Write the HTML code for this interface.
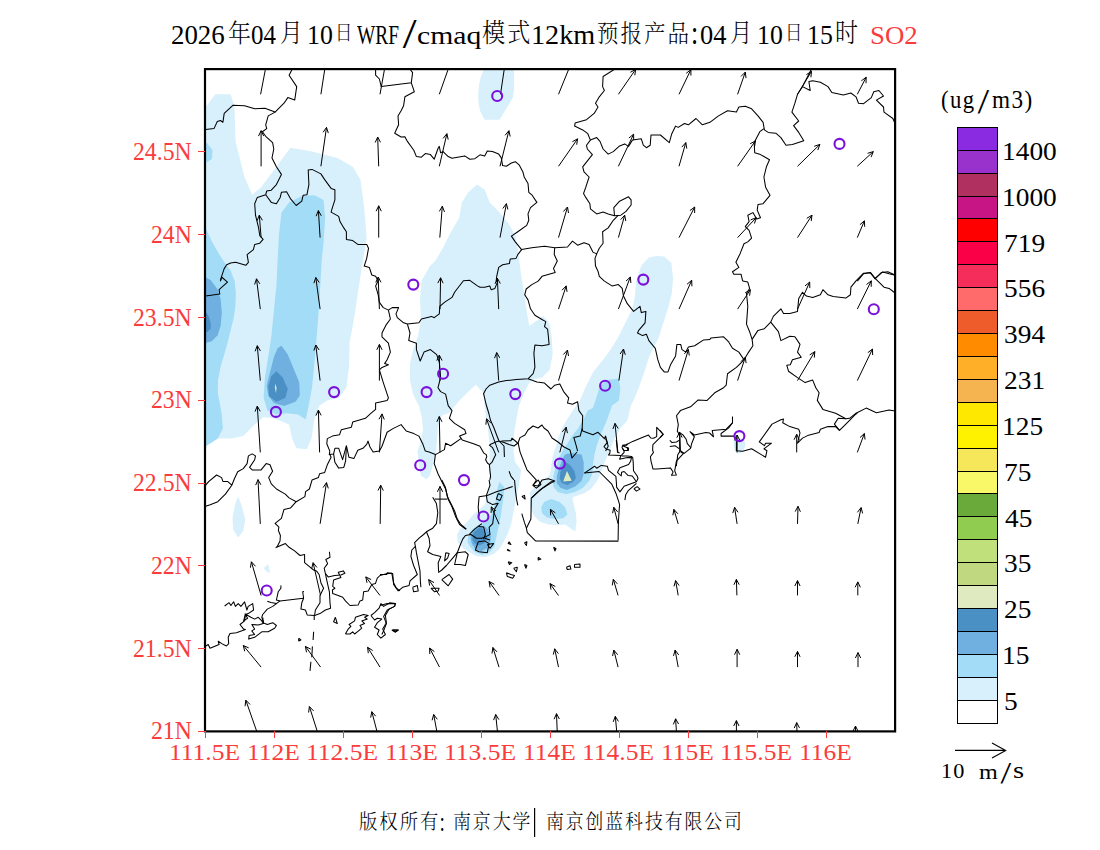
<!DOCTYPE html>
<html lang="zh"><head><meta charset="utf-8"><title>WRF/cmaq SO2</title>
<style>
html,body{margin:0;padding:0;background:#fff;}
body{width:1100px;height:850px;position:relative;overflow:hidden;font-family:"Liberation Serif","Noto Serif CJK SC",serif;color:#000;}
.t{position:absolute;white-space:nowrap;line-height:1;transform-origin:0 0;}
svg{position:absolute;left:0;top:0;}
</style></head><body>
<svg width="1100" height="850" viewBox="0 0 1100 850">
<defs><clipPath id="mc"><rect x="205.0" y="69.1" width="690.1" height="662.3"/></clipPath></defs>
<g clip-path="url(#mc)">
<g id="shade">
<path d="M190.0 100.0L205.6 107.0L215.3 94.3L230.5 94.3L234.4 105.7L235.6 141.4L244.5 177.0L252.2 194.8L261.1 187.2L276.4 166.8L290.4 147.7L312.0 151.5L337.5 157.9L352.7 166.8L360.4 179.5L364.2 207.5L366.7 238.1L362.9 260.5L357.8 293.5L354.0 319.0L349.7 341.9L348.9 367.4L346.4 387.7L338.7 397.9L327.3 400.5L319.6 405.5L314.5 418.3L311.5 438.6L306.9 449.3L296.2 448.3L292.1 438.6L289.1 424.6L273.8 418.3L263.6 417.0L254.7 424.6L243.3 436.1L231.8 438.6L217.8 438.6L205.6 446.3L190.0 447.0L185.0 300.0Z" fill="#d8f0fc"/>
<path d="M281.5 212.6L289.0 202.5L301.8 196.0L314.5 195.3L323.5 200.0L325.2 217.7L323.5 243.2L321.7 260.5L319.6 298.6L317.1 331.7L314.5 362.3L312.0 387.7L308.2 408.1L305.6 419.5L298.0 414.5L286.5 413.2L276.4 414.5L267.5 410.6L263.6 397.9L264.9 377.5L268.2 357.2L271.3 336.8L273.8 311.4L276.4 285.9L277.6 260.5L278.9 235.0Z" fill="#a3dcf6"/>
<path d="M190.0 225.0L205.6 228.0L212.7 243.0L219.0 254.0L225.3 263.5L230.6 270.6L234.7 281.2L235.9 292.9L235.3 307.0L233.5 318.8L230.6 330.6L227.6 342.4L224.7 352.9L221.0 365.0L218.0 380.0L217.8 392.8L221.6 413.2L222.9 428.5L217.8 438.6L205.6 446.3L190.0 447.0L185.0 330.0Z" fill="#a3dcf6"/>
<path d="M195.0 142.0L207.0 143.0L212.5 150.0L212.0 159.0L207.0 162.0L195.0 163.0Z" fill="#a3dcf6"/>
<path d="M190.0 276.0L205.9 277.6L210.6 280.0L217.6 289.4L220.6 298.8L221.8 312.9L220.6 325.9L217.6 335.3L211.8 341.2L205.9 343.0L190.0 343.0Z" fill="#70b0e0"/>
<path d="M195.0 310.0L205.9 311.8L208.8 316.5L210.6 322.4L210.8 328.2L208.2 331.2L205.9 332.4L195.0 333.0Z" fill="#4a90c4"/>
<path d="M281.5 345.7L287.8 354.6L294.2 369.9L299.3 382.6L299.8 395.4L295.5 401.7L284.0 406.0L273.8 403.0L268.2 395.4L266.7 385.2L270.0 372.5L273.8 357.2L277.6 348.3Z" fill="#70b0e0"/>
<path d="M276.4 371.2L282.7 377.5L287.8 389.0L285.3 397.9L276.4 401.7L269.2 396.6L268.2 386.5L271.3 376.3Z" fill="#4a90c4"/>
<path d="M275.0 383.5L276.6 387.7L276.0 393.2L274.9 388.0Z" fill="#e0eac0"/>
<path d="M477.0 184.6L484.7 189.7L489.8 202.5L498.7 211.4L508.9 224.1L515.3 235.5L517.8 249.0L519.6 263.0L521.6 278.3L524.2 293.5L526.7 311.4L529.3 326.1L543.3 315.9L549.6 324.1L551.7 336.8L552.7 354.6L549.6 369.9L542.0 377.5L531.8 380.1L528.0 385.2L524.2 392.8L519.1 405.5L516.5 418.3L514.0 433.5L513.5 451.0L515.0 462.0L521.2 470.0L519.1 484.1L516.3 498.2L513.4 512.4L511.3 523.7L507.8 533.6L503.6 542.0L499.3 549.1L493.7 554.0L485.2 556.9L476.7 556.2L469.7 552.6L462.6 547.7L457.7 542.0L457.0 535.0L459.8 529.3L466.8 522.3L473.9 513.8L481.0 508.1L485.2 503.9L486.6 495.4L488.7 486.9L490.1 478.5L489.4 470.0L489.8 451.0L489.0 438.6L487.3 423.4L484.7 408.1L483.5 392.8L475.8 384.7L468.0 392.0L460.0 400.0L453.0 408.0L449.0 413.0L443.0 415.0L440.0 418.0L438.0 428.0L437.0 440.0L436.0 452.0L434.4 456.5L433.0 464.2L430.0 475.6L426.5 479.3L421.0 476.0L418.9 466.0L417.6 450.8L420.0 444.0L423.0 430.0L422.0 418.0L419.0 406.0L413.0 394.0L410.0 380.0L410.0 364.0L413.0 350.0L418.0 336.0L421.0 320.0L420.0 300.0L421.5 281.1L430.0 266.0L435.1 261.0L442.7 248.3L450.4 233.0L459.3 217.7L461.8 202.5L468.2 192.3Z" fill="#d8f0fc"/>
<path d="M648.9 257.4L656.5 255.9L664.2 256.6L671.3 263.0L673.1 278.3L671.8 293.5L668.0 308.8L662.9 324.1L659.1 336.8L654.0 347.0L648.9 357.2L645.1 369.9L638.7 387.7L633.6 400.5L631.0 405.0L627.5 420.0L620.4 428.5L614.7 438.4L610.5 448.2L607.0 456.7L603.4 465.2L600.6 473.7L596.4 482.1L590.7 489.2L583.7 493.4L575.2 496.3L572.4 497.7L573.8 504.7L575.9 513.2L576.6 521.7L575.2 531.6L571.0 528.8L565.3 524.5L558.2 525.2L548.4 524.5L539.9 521.7L534.2 516.0L531.4 510.4L530.0 504.7L530.0 492.0L535.6 486.4L544.1 479.3L549.8 475.1L551.2 466.6L552.6 456.7L555.4 448.2L558.2 438.4L561.8 428.5L566.7 420.0L576.4 405.0L578.9 403.0L585.3 387.7L592.9 372.5L603.1 359.7L610.7 349.5L618.4 336.8L626.0 321.5L632.4 308.8L634.9 296.1L636.2 280.8L641.3 265.5Z" fill="#d8f0fc"/>
<path d="M605.6 380.1L618.4 378.8L620.4 387.7L618.9 400.5L612.0 405.5L607.0 420.0L602.7 429.9L599.2 438.4L596.4 446.8L594.3 455.3L592.9 465.2L592.1 473.7L589.3 480.7L583.0 487.8L575.2 492.0L566.0 494.2L557.5 492.0L553.3 486.4L553.3 476.5L555.4 468.0L560.4 455.3L563.9 448.2L568.1 442.6L572.4 435.5L578.0 428.5L583.0 420.0L584.0 418.3L587.8 410.6L592.9 408.1L595.5 400.5L599.3 387.7Z" fill="#a3dcf6"/>
<path d="M541.3 507.6L544.1 501.9L551.2 499.1L559.7 501.9L565.3 507.6L567.4 514.6L563.2 518.2L555.4 518.9L546.9 517.5L542.0 513.2Z" fill="#a3dcf6"/>
<path d="M566.0 453.9L572.4 453.2L581.6 454.6L583.7 462.4L583.7 473.7L581.6 480.7L575.2 486.4L566.7 489.9L560.4 487.8L556.8 482.9L556.8 476.5L559.0 468.0L561.8 461.0L563.9 456.0Z" fill="#70b0e0"/>
<path d="M563.2 466.6L566.7 462.4L571.0 465.9L574.5 471.6L575.9 477.9L573.1 482.1L567.4 485.0L561.8 482.9L559.7 478.6L560.4 472.3Z" fill="#4a90c4"/>
<path d="M567.0 471.1L571.7 480.7L563.2 481.4Z" fill="#e0eac0"/>
<path d="M499.3 482.0L504.3 486.9L503.6 496.8L502.1 506.7L500.7 516.6L498.6 526.5L496.5 536.4L494.4 546.3L489.4 552.6L482.4 554.7L475.3 552.6L470.4 547.0L467.5 542.0L468.2 536.4L472.5 529.3L478.1 525.1L485.2 522.3L489.4 518.0L493.7 509.5L495.8 499.7L497.2 489.8Z" fill="#a3dcf6"/>
<path d="M471.8 532.1L478.1 526.5L483.8 525.8L488.0 529.3L490.8 536.4L490.1 543.4L486.6 548.4L481.0 551.2L475.3 549.1L471.8 543.4L470.4 537.8Z" fill="#70b0e0"/>
<path d="M473.9 532.1L478.8 527.9L482.4 528.6L485.2 532.9L487.3 538.5L483.8 543.4L478.8 545.6L474.6 543.4L472.5 539.2L472.8 535.0Z" fill="#4a90c4"/>
<path d="M484.0 55.0L514.0 55.0L514.0 90.0L513.0 97.0L509.8 103.0L499.5 119.7L484.7 119.7L480.5 112.0L478.6 104.0L478.1 95.0L479.0 85.0L481.0 76.0L484.0 69.0Z" fill="#d8f0fc"/>
<path d="M238.2 496.6L242.0 506.8L245.3 519.5L243.3 531.0L238.2 537.4L233.1 529.7L232.6 517.0L235.1 504.3Z" fill="#d8f0fc"/>
<path d="M263.6 567.9L268.2 564.1L270.0 573.0L266.7 571.7Z" fill="#d8f0fc"/>
<path d="M733.8 441.7C734.4 439.4 737.5 438.5 739.4 438.6C741.3 438.8 744.7 440.3 745.3 442.4C745.8 444.6 744.3 449.7 742.7 451.4C741.2 453.1 737.3 454.3 735.9 452.6C734.4 451.0 733.2 444.0 733.8 441.7Z" fill="#d8f0fc"/>
</g>
<g id="bounds" fill="none" stroke="#000" stroke-width="1.05" stroke-linejoin="round">
<polyline points="205.6,129.4 214.0,128.6 217.3,121.5 220.4,120.5 222.9,122.3 224.2,113.4 233.1,105.2 244.6,105.7 254.7,108.8 264.9,108.3 275.1,112.1 284.0,103.2 287.8,97.6 294.7,100.1 296.7,86.6 289.1,75.2 292.1,69.3"/>
<polyline points="275.1,112.1 268.2,115.9 265.7,124.8 266.7,128.6 262.4,131.7 265.7,136.3 272.6,142.6 273.8,149.0 272.0,157.9 276.4,166.8 281.4,174.4 276.4,184.6 271.3,190.2 266.7,191.0 265.7,194.8 271.3,202.4 276.4,203.7 280.2,197.4 281.4,192.3 286.6,191.8 290.4,198.6 296.2,205.5 301.8,201.2 303.1,195.3 306.9,194.8 308.9,184.6 308.2,169.9 312.0,169.4 320.9,173.9 324.7,179.6 331.1,188.4 334.9,189.7 334.9,199.9 332.4,207.6 331.1,212.1 338.7,216.4 340.0,221.6 343.8,227.9 346.4,231.7 346.4,239.4 352.7,240.6 357.8,244.4 366.7,244.4 368.5,248.3 366.7,258.4 364.2,266.1 369.3,267.4 371.8,275.0 375.6,276.3 378.2,281.1"/>
<polyline points="265.7,194.8 257.3,197.4 254.7,203.7 255.5,215.2 258.6,227.9 259.8,235.6 263.1,239.4 259.8,243.2 254.7,244.4 253.4,249.6 247.1,254.6 248.4,262.3 245.8,265.3 235.6,262.3 230.6,263.0 226.7,264.8 224.2,268.6 221.6,276.3 220.4,281.1"/>
<polyline points="375.6,69.3 375.6,75.2 379.4,79.0 381.2,86.6 411.3,82.8 412.6,72.6 410.0,69.3"/>
<polyline points="411.3,82.8 414.3,91.7 404.9,96.8 403.6,105.7 401.1,110.8 398.0,115.9 398.6,124.8 394.7,133.2 401.1,137.0 404.9,136.8 407.4,141.4 413.8,150.3 416.4,156.6 421.4,157.2 425.3,153.6 430.4,154.6 434.2,159.2 438.0,148.5 439.3,146.4 440.6,152.8 443.1,151.6 448.2,156.6 452.0,158.2 464.7,155.9 469.8,159.2 474.9,158.7 480.0,154.8"/>
<polyline points="479.9,154.8 484.7,156.1 487.3,151.0 492.4,151.6 498.7,154.1 501.3,157.9 502.6,165.6 506.4,166.3 511.4,163.0 515.3,161.7 519.1,164.8 522.9,171.9 524.2,177.0 528.0,183.4 528.8,192.3 531.8,194.8 536.9,202.4 530.5,207.6 528.0,213.9 528.8,220.3 526.7,225.4 517.8,231.7 511.4,236.1 515.3,241.9 521.6,249.6 531.8,247.8 544.5,246.2 554.7,247.8 567.5,247.0 572.5,241.2 577.6,245.2 584.0,242.7 589.1,244.4 592.9,252.1 596.7,253.9 599.3,248.3 603.1,243.2 602.6,231.7 608.2,227.9 613.3,220.3 618.4,215.2"/>
<polyline points="521.6,249.6 517.8,254.6 516.0,258.4 510.2,259.0 509.4,263.6 502.6,264.8 498.7,267.4 496.7,276.3 496.2,281.1"/>
<polyline points="554.7,247.8 554.2,254.6 557.3,261.0 553.5,268.6 555.2,272.4 542.0,276.3 538.2,281.1"/>
<polyline points="596.7,253.9 595.0,258.4 595.5,266.1 598.0,271.2 599.3,276.3 604.4,281.1"/>
<polyline points="614.5,69.3 603.1,76.5 602.6,86.6 604.4,90.5 599.3,96.8 595.5,103.2 598.0,107.0 594.2,113.4 586.5,119.7 575.1,123.0 574.6,126.1 582.7,129.9 587.8,133.7 590.4,140.1 586.5,145.2 587.3,149.0 592.4,154.6 587.8,160.4 582.7,166.8 584.0,171.9 589.1,177.0 585.8,187.2 583.5,193.6 585.8,197.4 589.9,203.7 590.4,208.8 596.7,213.9 603.1,212.1 608.2,213.9 614.5,215.7 613.8,207.6 619.6,201.2 628.5,196.8 631.1,199.9 631.1,205.0 626.0,211.4 620.9,215.2 614.5,215.7"/>
<polyline points="590.4,140.1 596.7,137.6 600.0,141.4 603.1,149.0 608.2,154.1 613.3,151.6 619.6,145.9 624.7,143.9 628.5,146.4 632.4,140.1 641.3,138.8 643.3,145.2 646.4,147.7 650.2,145.2 651.0,135.0 660.4,135.0 669.3,142.6 671.8,133.7 675.6,126.1 678.2,127.4 684.5,123.5 688.4,124.8 696.0,118.5 702.4,124.8 710.0,122.3"/>
<polyline points="709.9,122.3 718.5,115.9 727.5,110.8 736.4,112.1 738.9,107.0 745.3,106.2 751.6,108.8 758.0,115.9 763.1,122.3 764.4,129.9 768.2,132.4 775.8,133.2 780.9,137.6 786.0,145.2 792.4,144.4 803.8,140.8 798.7,132.4 793.6,125.6 798.7,121.0 791.9,112.1 794.9,103.2 797.5,94.3 802.5,86.6 806.4,79.0 810.2,71.4 811.5,69.3"/>
<polyline points="802.5,86.6 810.2,90.5 808.9,81.5 812.7,80.8 820.4,82.3 828.0,86.6 831.8,92.5 843.3,95.0 850.9,93.0 856.0,96.8 858.5,103.2 863.6,103.7 871.3,97.6 873.8,91.7 878.9,90.5 883.5,96.0 876.4,100.1 883.5,107.0 884.0,112.1 892.9,118.5 895.0,123.5"/>
<polyline points="763.9,128.6 759.8,131.7 754.2,142.6 754.7,152.8 760.5,154.6 769.5,159.7 766.4,166.8 763.9,177.0 765.6,187.2 770.0,195.3 763.1,203.7 758.0,204.5 757.2,210.1 760.5,217.7 756.7,219.0 752.9,212.6 747.8,215.2 749.1,221.6 745.3,226.6 749.1,230.4 751.6,238.1 747.8,241.9 744.0,243.7 740.2,253.4 735.9,262.3 738.9,267.4 732.5,271.7 733.8,274.2 741.0,274.2 742.7,281.1"/>
<polyline points="857.3,281.1 863.6,273.7 870.0,272.4 875.1,278.8 881.5,272.4 887.8,271.7 895.0,275.0"/>
<polyline points="220.4,281.1 221.6,277.0 227.5,282.1 219.1,289.7 219.8,294.1 205.6,296.1"/>
<polyline points="378.2,280.8 375.6,285.9 378.2,294.8 379.4,302.4 383.3,307.6 388.4,310.1 392.2,307.6 398.6,307.6 396.0,313.9 397.3,317.7 403.6,322.8 407.4,324.1 418.9,322.8 421.4,319.0 431.6,316.4 434.2,317.7 439.3,313.9 439.8,306.3 444.4,302.4 452.0,297.4 454.6,292.3 463.4,280.8 469.8,280.3 477.4,285.9 480.0,287.2"/>
<polyline points="388.4,310.1 390.4,319.0 385.8,325.4 382.0,333.0 382.0,336.8 388.4,343.2 390.4,352.1 387.1,359.7 384.6,363.6 388.4,364.8 382.0,367.4 379.4,369.9 383.3,382.6 388.4,397.9 387.1,400.4 375.6,403.0 375.6,409.4 371.1,413.2 365.4,418.3 352.7,422.1 351.4,427.2 341.3,429.7 339.5,434.8 332.4,436.1 327.3,438.6 326.8,443.7 329.8,451.1"/>
<polyline points="407.4,324.1 410.0,333.0 408.7,340.6 416.4,343.2 416.4,349.6 420.2,361.0 424.0,352.1 430.4,349.6 436.7,354.6 439.3,362.3 440.6,377.6 438.0,387.7 440.6,391.6 445.6,394.1 448.2,405.6 452.0,410.6 449.4,418.3 454.6,423.4 464.7,429.7 466.0,433.6 459.6,436.1 462.2,439.9 473.6,443.7 480.0,446.3"/>
<polyline points="379.4,451.1 382.0,446.3 387.1,432.3 393.4,428.4 401.1,424.6 406.2,431.0 413.8,433.6 418.9,436.1 422.7,443.7 425.3,451.1"/>
<polyline points="496.2,281.1 497.4,282.1 494.9,288.4 491.1,289.7 489.8,285.9 484.7,287.2 479.9,287.2"/>
<polyline points="538.2,281.1 531.8,284.6 526.2,289.0 524.7,294.8 528.0,299.9 530.5,308.8 534.9,315.2 542.0,319.5 545.8,321.6 544.5,326.6 547.6,329.2 548.4,336.8 549.1,344.4 542.0,345.7 534.9,345.0 533.9,353.4 534.4,359.7 534.9,367.4 533.1,373.7 528.0,378.8 516.5,379.6 506.4,380.6 498.7,382.1 489.8,385.2 486.0,389.0 483.4,394.1"/>
<polyline points="528.0,378.8 536.9,382.1 544.5,383.1 550.9,389.0 554.7,385.2 559.8,383.9 563.6,391.6 568.7,397.9 567.5,403.0 572.5,404.3 577.6,401.7 578.9,410.6 582.7,415.7 582.2,428.4 580.2,436.1 573.8,437.4 576.4,446.3 577.6,451.1"/>
<polyline points="577.0,452.0 572.0,458.0 570.0,450.0 564.0,447.0 558.0,442.0 552.0,438.0 548.0,431.0 544.0,428.0 542.0,425.0 538.0,428.0 533.0,426.0 528.0,430.0 525.0,435.0 520.0,437.6 518.0,443.0 514.0,446.0 509.0,444.4 504.0,442.4 499.0,441.0 497.0,436.0 494.0,428.0 490.4,420.0 489.0,414.0 486.0,404.0 483.6,393.6"/>
<polyline points="499.0,441.0 504.0,446.0 504.4,457.0"/>
<polyline points="582.2,428.4 582.7,431.0 592.9,434.8 598.0,432.3 604.4,438.6 605.6,436.1 608.2,446.3 605.6,451.1"/>
<polyline points="604.4,281.1 612.0,285.9 618.4,284.6 622.2,288.4 623.5,296.1 627.3,303.7 633.6,311.4 640.0,306.3 641.3,312.6 645.9,311.4 645.1,322.8 638.7,330.4 637.5,333.0 642.5,335.6 646.4,334.3 648.9,340.6 655.3,348.3 657.8,359.7 660.4,367.4 664.2,371.9 668.0,371.9 670.5,364.8 675.6,355.9 676.9,344.4 680.7,344.4 682.0,349.6 685.8,352.1 688.4,347.0 694.7,345.7 703.6,339.9 710.0,339.4"/>
<polyline points="742.7,281.1 747.8,282.1 749.6,288.4 746.5,293.6 747.8,306.3 746.5,324.1 749.6,331.7 752.1,339.4 752.9,345.7 747.8,353.4 744.0,359.7 741.5,362.3 736.4,367.4 727.5,373.7 726.2,385.2 723.6,387.7 714.7,392.8 707.1,400.4 698.2,399.9 690.5,406.8 680.4,410.6 676.5,415.7 678.3,424.6 677.3,431.0 679.9,436.1"/>
<polyline points="709.9,339.4 710.9,338.1 723.6,336.8 728.7,341.9 732.5,348.3 738.9,352.1 744.0,359.7"/>
<polyline points="752.1,339.4 758.0,330.4 764.4,328.7 770.7,322.1 773.3,316.4 780.9,308.8 783.5,313.4 789.8,313.4 797.5,311.4 798.7,298.6 802.5,292.3 806.4,296.1 812.7,297.4 820.4,294.8 822.9,289.7 828.0,294.8 833.1,296.6 845.8,298.1 850.4,294.8 850.9,287.2 856.0,280.8 863.6,273.2 870.8,272.7 875.1,278.3 882.7,271.9 889.1,273.7 895.0,275.2"/>
<polyline points="875.1,278.3 884.0,287.2 889.1,288.4 895.0,293.0"/>
<polyline points="770.7,322.1 778.4,331.7 780.9,340.6 789.8,336.3 794.9,336.8 800.0,344.4 797.5,352.1 801.3,357.2 792.4,359.7 790.3,364.8 786.8,365.3 788.5,371.2 797.5,377.6 805.1,382.6 812.7,380.1 815.8,387.7 819.1,392.8 817.3,400.4 822.9,409.4 835.6,413.2 845.8,418.8 849.6,418.3 856.0,413.2 866.2,408.1 876.4,412.7 889.1,410.1 895.0,411.1"/>
<polyline points="329.8,451.1 329.3,454.6 333.6,453.9 334.9,448.3 338.7,448.3 342.6,459.7 346.4,445.7 348.9,457.2 354.0,458.4 357.8,450.3 362.9,448.3 366.7,444.4 368.0,441.1 370.0,447.0 373.1,452.1 379.4,451.1"/>
<polyline points="333.6,453.9 334.9,462.3 338.7,468.1 343.8,467.4 345.6,461.0 346.4,447.0"/>
<polyline points="425.3,451.1 429.1,452.1 435.4,454.6 444.4,449.6 445.6,443.2 450.7,445.7 460.9,438.6"/>
<polyline points="329.8,454.6 331.1,457.2 327.3,464.8 324.7,472.4 319.6,473.7 318.4,477.6 312.0,480.1 309.4,489.0 305.6,491.6 304.9,496.6 296.2,501.7 290.4,508.1 284.0,509.4 281.4,518.3 275.1,523.4 278.9,527.2 278.4,530.0"/>
<polyline points="296.2,501.7 289.1,497.9 285.3,494.1 276.4,489.0 271.3,483.9 268.7,477.6 272.6,471.2 270.0,464.8 266.2,463.6 261.1,469.9 252.2,469.9 249.6,467.4 254.7,459.7 255.5,455.9 252.2,453.9 248.4,455.9 247.1,463.6 243.3,468.6 237.7,471.7 234.4,478.8 231.8,485.2 227.5,481.4 222.9,481.4 221.6,477.6 216.6,475.0 208.9,481.4 205.6,485.2"/>
<polyline points="231.8,485.2 225.4,494.1 217.8,501.7 210.2,504.8 205.6,506.3"/>
<polyline points="435.4,454.6 434.2,463.6 438.0,473.7 441.8,481.4 445.6,489.0 448.2,499.2 452.0,506.8 455.8,517.0 459.6,524.6 466.0,529.2"/>
<polyline points="278.2,530.0 280.4,535.5 280.0,540.9 277.3,546.4 276.0,547.6 285.4,543.6 289.1,547.3 294.6,550.9 300.0,555.5 304.6,554.5 304.6,562.7 309.1,566.4 313.6,570.0 316.4,570.9 319.1,574.5 320.9,582.7 323.6,588.2 320.0,595.5 320.0,602.7 315.4,610.0 314.6,615.5"/>
<polyline points="329.4,551.8 330.0,557.3 325.8,559.5 327.6,563.6 324.2,568.2 325.4,573.6 328.2,576.9 334.6,575.5 340.9,575.1 344.9,573.3 343.3,570.9 338.2,572.2 340.9,577.6 333.6,580.0 332.7,586.4 334.9,588.2 332.4,590.0 332.7,593.6 338.2,595.5 342.7,597.3 345.4,600.9 350.0,605.5 358.2,604.9 360.0,600.9 362.7,600.0 363.6,591.8 368.2,590.9 371.8,584.5 375.4,583.6 377.3,578.2 380.0,575.5 387.3,573.6 391.8,573.3 393.6,582.7 396.4,588.2 400.0,590.9"/>
<polyline points="325.4,573.6 327.3,582.7 329.4,591.8 330.0,602.7 330.6,608.2 325.4,610.0 320.0,613.6 314.6,615.5 307.3,615.1 305.4,610.0 300.9,609.1 301.8,602.7 303.6,598.2 302.7,591.8 304.0,591.5"/>
<polyline points="303.6,598.2 299.1,598.7 280.0,600.9 276.4,600.0 278.2,591.8 280.9,588.2 280.9,585.5"/>
<polyline points="280.0,600.9 276.4,603.6 270.9,602.4 267.3,601.3"/>
<polyline points="276.4,603.6 272.7,606.4 267.3,609.1 262.7,614.5 261.8,617.3 263.3,622.7"/>
<polyline points="224.6,606.0 229.1,602.7 230.9,605.5 233.6,601.8 235.4,606.4 238.2,603.6 240.9,606.4 244.6,601.8 246.9,610.0 248.2,606.4 252.7,603.6 253.6,610.0 248.2,613.6 245.4,614.5 243.6,620.9 247.6,618.2 245.1,614.0 250.9,617.3 254.6,619.1 258.2,617.3 261.8,620.9 263.3,623.6 258.2,624.9 251.8,624.5 254.6,629.1 251.8,630.9 254.6,634.5 249.1,635.5 248.7,639.1 254.6,637.3 261.8,631.8 268.2,631.8 274.6,628.2 276.4,625.5 272.7,622.7 267.3,624.5 263.6,623.1 262.7,617.3"/>
<polyline points="245.4,614.5 244.6,620.9 240.0,624.5 243.6,629.1 245.4,629.6 236.4,632.7 230.0,633.6 228.2,637.3 228.7,643.6 226.4,646.0 221.8,643.6 218.2,641.3 219.1,644.5 210.0,648.2 208.2,644.5 205.4,646.4"/>
<polyline points="314.2,615.5 314.2,620.0"/>
<polyline points="313.6,631.8 313.1,640.0"/>
<polyline points="312.4,646.4 311.8,657.3"/>
<polyline points="310.9,661.8 310.0,670.9"/>
<polyline points="335.4,617.3 337.3,623.6 333.6,621.8 335.4,617.3"/>
<polyline points="298.7,638.2 300.9,640.0 298.7,640.9 298.7,638.2"/>
<polyline points="391.8,630.0 398.2,630.0 395.4,632.2 391.8,630.0"/>
<polyline points="345.4,634.0 348.2,629.1 350.9,626.4 349.1,624.5 354.6,620.9 355.4,617.3 363.6,614.5 368.2,615.5 364.6,617.3 367.3,619.1 361.8,620.9 364.6,623.6 360.0,625.5 361.8,628.2 357.3,631.8 354.6,634.0 352.7,631.8 350.0,634.0 345.4,634.0"/>
<polyline points="370.9,615.5 374.6,612.7 379.1,608.2 380.9,603.6 383.6,606.4 390.0,602.7 395.4,603.6 394.6,606.4 389.1,609.1 385.4,615.5 386.4,622.7 382.7,629.1 385.4,634.5 380.9,638.2 377.3,634.5 379.1,630.0 374.6,627.3 377.3,622.7 381.8,619.1 377.3,618.2 374.6,620.0 370.9,615.5"/>
<polyline points="441.8,480.0 445.4,487.3 447.3,496.4 450.9,503.6 454.6,510.9 457.3,519.1 460.9,524.5 466.4,529.1"/>
<polyline points="434.6,499.1 447.3,499.1"/>
<polyline points="432.7,497.3 436.4,503.6 437.8,512.7 436.4,523.6 432.7,528.2 426.4,531.8 423.6,534.5 419.1,538.2 414.6,542.7 415.4,546.4 411.8,550.0 410.9,556.4 413.6,565.5 417.3,574.5 410.0,580.9 409.1,585.5 402.7,587.3 398.2,590.9 393.6,584.5 392.7,573.6 387.3,572.7 386.9,574.5 380.0,574.5"/>
<polyline points="426.4,531.8 429.1,538.2 430.0,545.5 427.6,551.8 432.7,554.5 440.9,556.4 438.2,562.7 438.6,571.8"/>
<polyline points="415.4,546.4 416.4,552.7 418.2,561.8 420.0,570.9 420.4,581.8 420.9,587.3"/>
<polyline points="412.7,587.3 417.3,585.5 418.2,590.9 413.6,591.8 412.7,587.3"/>
<polyline points="441.8,579.6 449.1,574.5 452.7,579.1 448.2,585.8 441.8,579.6"/>
<polyline points="430.9,588.2 439.1,588.2 438.2,590.9 434.6,591.8 430.9,588.2"/>
<polyline points="514.5,480.0 515.5,490.9 516.7,500.0 517.8,505.4"/>
<polyline points="521.8,513.6 524.5,522.7 526.4,528.2 527.3,532.7 535.5,540.9 618.4,541.1"/>
<polyline points="526.4,528.2 530.9,519.1 531.3,498.2 540.0,490.0 550.9,481.8 554.5,481.8"/>
<polyline points="512.7,486.4 505.4,489.1 496.4,491.8 487.3,495.4 479.1,496.7 478.2,507.3 479.1,516.4"/>
<polyline points="489.1,480.0 490.0,485.4 486.4,495.4 487.3,501.8 492.7,504.6 498.2,503.3 494.6,509.1 493.6,516.4 492.7,523.6 489.1,527.3 490.0,534.5 486.4,536.4 481.8,538.2 476.4,538.2 470.9,534.5 465.4,535.5 462.7,539.1 460.0,545.5 457.3,552.7 452.7,558.2 446.4,565.5 441.8,570.0 438.2,572.7"/>
<polyline points="481.8,523.6 474.6,529.1 469.1,534.5"/>
<polyline points="478.2,526.4 483.6,526.9 485.4,534.5 483.6,539.1"/>
<polyline points="478.2,541.8 484.6,540.9 489.1,543.6 487.3,552.7 479.1,551.8 475.4,550.0 478.2,541.8"/>
<polyline points="487.3,544.5 493.6,543.6 490.0,548.2 487.3,544.5"/>
<polyline points="484.6,538.2 490.0,540.0"/>
<polyline points="498.2,493.6 502.2,495.4 500.0,500.4 496.4,499.1 498.2,493.6"/>
<polyline points="457.3,552.7 465.4,551.8 468.2,554.5 465.4,565.5 460.0,564.5 454.6,564.5 457.3,552.7"/>
<polyline points="445.8,552.7 449.1,553.6 447.6,558.2 444.6,560.9 445.8,552.7"/>
<polyline points="509.1,541.8 510.9,544.5 508.2,543.6 509.1,541.8"/>
<polyline points="507.3,549.1 510.0,550.9 507.8,550.5 507.3,549.1"/>
<polyline points="508.2,561.8 511.8,562.7 509.4,564.5 508.2,561.8"/>
<polyline points="513.6,568.2 517.3,567.3 516.4,571.8 513.6,568.2"/>
<polyline points="506.4,572.7 510.9,574.5 514.5,575.5 512.7,578.2 507.3,576.4 506.4,572.7"/>
<polyline points="524.5,542.7 526.9,541.8 526.4,545.5 524.5,542.7"/>
<polyline points="524.5,564.5 526.9,565.5 526.0,568.2 524.5,564.5"/>
<polyline points="538.2,557.3 540.9,559.1 538.2,560.0 538.2,557.3"/>
<polyline points="553.6,547.3 556.0,548.7 554.9,550.9 553.6,547.3"/>
<polyline points="566.4,567.3 570.0,565.8 570.9,569.1 567.3,569.5 566.4,567.3"/>
<polyline points="574.5,564.5 580.0,564.0 580.0,567.3 574.5,567.3 574.5,564.5"/>
<polyline points="521.8,496.4 524.5,495.4 525.1,499.1 521.8,496.4"/>
<polyline points="532.7,485.4 538.2,480.0 540.9,484.6 536.4,488.2 532.7,485.4"/>
<polyline points="392.7,630.0 398.2,630.0 395.4,631.8 392.7,630.0"/>
<polyline points="380.0,605.5 387.3,603.6 395.4,603.6 394.6,606.4 387.3,610.0 383.6,616.4 386.4,623.6 383.6,630.9 381.8,634.4"/>
<polyline points="518.1,442.9 520.1,452.1 523.9,462.0 527.0,469.9 530.5,473.7 536.4,480.1 533.1,485.2 538.2,485.9 542.0,480.1 548.4,478.8 554.7,480.9 549.6,483.9 543.3,487.7 536.9,492.8 531.8,497.9"/>
<polyline points="584.4,473.1 594.6,466.2 596.7,468.2 601.2,465.4 607.3,466.2 608.5,470.3 615.9,476.4 616.3,481.7 616.7,487.4 620.0,491.9 624.1,486.2 636.4,481.7 638.0,478.4 637.2,476.0 633.5,470.7 633.2,462.1 632.7,457.6 631.5,456.4 627.4,455.9 622.5,455.9 620.8,455.6 608.5,455.1 609.8,453.1 610.2,450.2 606.1,449.0 604.0,446.6 607.3,442.4 605.4,438.6"/>
<polyline points="584.4,473.1 599.1,471.5 611.8,484.2 615.9,493.2 618.4,500.6 619.6,504.6 619.2,509.5 618.4,521.8 618.1,540.5"/>
<polyline points="636.4,481.7 632.3,476.0 628.2,475.6 624.1,471.5 621.6,472.3 621.2,476.0 617.5,472.3 620.0,467.8 628.6,464.6 630.6,461.3 631.5,457.6 627.4,457.6 619.6,459.2 620.8,455.9"/>
<polyline points="624.9,500.1 625.7,494.8 628.2,490.7 632.3,487.1 636.4,483.4"/>
<polyline points="633.9,488.7 637.2,486.6 640.0,489.1 636.4,491.1 633.9,488.7"/>
<polyline points="616.3,440.0 617.1,448.2 617.5,452.3 619.6,453.1"/>
<polyline points="622.5,445.7 627.4,447.8 627.8,450.2 624.1,450.6 622.0,447.8 622.5,445.7"/>
<polyline points="624.1,450.6 624.1,452.3 621.6,455.1"/>
<polyline points="622.4,445.6 626.2,444.7 632.7,441.4 640.4,438.2 648.5,435.1 650.7,438.0 653.5,438.2 656.7,436.6 656.7,427.3 663.3,434.4 659.5,438.2 652.9,444.7 652.6,450.2 653.5,452.4 650.4,456.7 651.0,461.1 652.1,465.4 652.9,468.9 656.7,468.9 670.4,467.9 673.1,472.0 671.5,475.3 676.4,475.1 674.7,470.9 675.3,467.6 676.4,461.1 683.5,453.4 680.7,452.1"/>
<polyline points="622.4,445.3 626.7,445.3 627.3,443.6"/>
<polyline points="626.2,447.4 628.6,448.0 628.4,450.4 623.5,450.2 622.4,448.0"/>
<polyline points="669.8,440.4 672.0,442.6 676.4,442.0 679.1,440.4"/>
<polyline points="669.8,446.4 675.3,445.8 679.1,448.6"/>
<polyline points="679.1,432.2 682.9,434.9 686.2,439.3 687.3,443.6 691.1,448.0"/>
<polyline points="679.9,436.1 680.4,450.8 684.2,453.4 690.5,448.3 691.8,443.2 694.4,436.8 690.0,431.7 694.4,435.0 705.8,432.5 709.6,433.0 713.5,436.8 712.2,430.4 726.2,429.2 732.5,422.8 732.5,416.4"/>
<polyline points="732.5,422.8 728.7,427.9 721.1,433.5 721.1,436.1 733.8,436.1 736.4,438.1 736.4,450.8 742.7,451.3 751.6,448.8 765.6,457.2 766.9,450.8 763.9,448.8 771.5,443.2 765.6,443.2 764.4,445.7 759.3,441.9 772.0,424.1 780.9,419.8 783.5,419.0 782.7,422.8 789.8,426.6 798.7,429.2 800.0,433.0 797.5,443.2 802.5,438.1 807.6,435.6 819.1,432.5 820.4,429.2 828.0,426.6 835.6,426.6 839.5,430.4 847.1,422.8 854.7,415.2 857.3,413.1"/>
<polyline points="845.8,418.8 838.2,418.2 834.4,424.1 839.5,430.4"/>
<polyline points="676.3,466.1 677.8,454.6 680.4,450.8"/>
<polyline points="660.0,430.4 663.0,434.3 660.0,437.6"/>
<polyline points="479.9,446.3 483.6,452.8 486.2,454.7 486.8,456.6 485.6,459.8 487.4,463.0 489.4,464.6 491.9,462.4 493.8,458.6 495.7,454.7 494.4,451.6 492.6,447.7 489.4,445.2 491.3,443.9 496.4,441.8 499.0,441.0"/>
<polyline points="501.4,441.0 511.0,440.7 511.9,438.2 514.8,440.5 518.0,443.3"/>
<polyline points="489.4,464.6 490.0,471.3 490.6,476.4 489.8,479.9"/>
<polyline points="509.1,471.3 511.0,476.4 513.9,479.9"/>
</g>
<g id="arrows" fill="none" stroke="#000" stroke-width="1">
<path d="M260.6 94.3L268.2 54.8M264.6 59.6L268.2 54.8L269.8 60.6"/>
<path d="M320.9 94.3L327.0 54.8M323.6 59.7L327.0 54.8L328.8 60.6"/>
<path d="M380.0 94.3L387.1 54.8M383.5 59.7L387.1 54.8L388.7 60.6"/>
<path d="M439.3 94.3L453.3 54.8M449.0 59.0L453.3 54.8L453.9 60.8"/>
<path d="M261.1 166.3L261.1 130.7M258.5 136.1L261.1 130.7L263.7 136.1"/>
<path d="M320.9 166.3L326.5 127.4M323.1 132.3L326.5 127.4L328.3 133.1"/>
<path d="M378.7 166.3L377.7 137.0M375.2 142.5L377.7 137.0L380.5 142.3"/>
<path d="M439.3 166.3L446.9 133.7M443.1 138.4L446.9 133.7L448.2 139.6"/>
<path d="M261.1 237.6L259.3 215.2M257.1 220.8L259.3 215.2L262.4 220.3"/>
<path d="M320.1 237.6L318.4 210.6M316.1 216.2L318.4 210.6L321.3 215.8"/>
<path d="M378.7 237.6L378.7 205.8M376.1 211.2L378.7 205.8L381.3 211.2"/>
<path d="M439.8 237.6L442.3 206.3M439.3 211.4L442.3 206.3L444.5 211.9"/>
<path d="M500.5 94.3L506.4 54.8M503.0 59.8L506.4 54.8L508.2 60.5"/>
<path d="M558.5 94.3L572.5 59.9M568.1 63.9L572.5 59.9L573.0 65.9"/>
<path d="M618.4 94.3L635.7 69.3M630.4 72.3L635.7 69.3L634.8 75.3"/>
<path d="M679.0 94.3L690.9 69.6M686.2 73.3L690.9 69.6L690.9 75.6"/>
<path d="M500.0 166.3L508.9 130.7M505.1 135.3L508.9 130.7L510.2 136.5"/>
<path d="M558.5 166.3L577.6 138.8M572.4 141.7L577.6 138.8L576.7 144.7"/>
<path d="M618.4 166.3L633.6 134.2M628.9 138.0L633.6 134.2L633.7 140.2"/>
<path d="M679.0 166.3L685.8 142.6M681.8 147.1L685.8 142.6L686.8 148.6"/>
<path d="M500.0 237.6L506.4 203.7M502.8 208.5L506.4 203.7L507.9 209.5"/>
<path d="M558.5 237.6L567.5 207.0M563.4 211.5L567.5 207.0L568.5 213.0"/>
<path d="M618.4 237.6L624.7 215.2M620.7 219.6L624.7 215.2L625.8 221.1"/>
<path d="M679.0 237.6L694.7 207.0M689.9 210.6L694.7 207.0L694.6 213.0"/>
<path d="M737.6 94.3L745.3 72.1M741.0 76.4L745.3 72.1L746.0 78.1"/>
<path d="M797.5 94.3L811.5 71.4M806.4 74.6L811.5 71.4L810.9 77.3"/>
<path d="M857.3 94.3L866.2 77.2M861.4 80.8L866.2 77.2L866.0 83.2"/>
<path d="M737.6 166.3L755.5 140.8M750.2 143.8L755.5 140.8L754.5 146.8"/>
<path d="M797.5 166.3L819.9 144.4M814.2 146.3L819.9 144.4L817.8 150.1"/>
<path d="M857.3 166.3L873.3 151.6M867.6 153.3L873.3 151.6L871.1 157.1"/>
<path d="M737.6 237.6L756.2 217.7M750.6 219.9L756.2 217.7L754.5 223.5"/>
<path d="M797.5 237.6L812.0 215.2M806.8 218.3L812.0 215.2L811.2 221.1"/>
<path d="M857.3 237.6L864.4 220.8M859.9 224.7L864.4 220.8L864.7 226.8"/>
<path d="M260.3 309.1L256.5 278.8M254.6 284.5L256.5 278.8L259.8 283.8"/>
<path d="M320.1 309.1L315.8 277.5M313.9 283.2L315.8 277.5L319.2 282.5"/>
<path d="M379.4 309.1L378.2 277.0M375.8 282.5L378.2 277.0L381.0 282.3"/>
<path d="M440.0 309.1L440.6 277.8M437.8 283.1L440.6 277.8L443.1 283.2"/>
<path d="M260.3 380.6L257.3 345.7M255.1 351.3L257.3 345.7L260.4 350.9"/>
<path d="M320.1 380.6L315.8 345.0M313.9 350.6L315.8 345.0L319.1 350.0"/>
<path d="M379.4 380.6L379.4 344.4M376.8 349.8L379.4 344.4L382.1 349.8"/>
<path d="M440.0 380.6L439.3 355.1M436.8 360.6L439.3 355.1L442.1 360.5"/>
<path d="M260.3 452.4L257.3 406.1M255.0 411.6L257.3 406.1L260.2 411.3"/>
<path d="M319.6 452.4L318.4 410.1M315.9 415.6L318.4 410.1L321.2 415.4"/>
<path d="M379.4 452.4L382.0 413.9M379.0 419.2L382.0 413.9L384.3 419.5"/>
<path d="M440.0 452.4L439.3 416.5M436.8 421.9L439.3 416.5L442.0 421.8"/>
<path d="M498.7 309.1L497.4 278.3M495.0 283.8L497.4 278.3L500.3 283.5"/>
<path d="M558.5 309.1L566.2 285.9M562.0 290.2L566.2 285.9L567.0 291.9"/>
<path d="M618.4 309.1L630.3 277.0M626.0 281.1L630.3 277.0L630.9 283.0"/>
<path d="M679.0 309.1L691.7 280.3M687.1 284.2L691.7 280.3L691.9 286.3"/>
<path d="M498.7 380.6L496.7 352.6M494.5 358.2L496.7 352.6L499.7 357.8"/>
<path d="M558.5 380.6L567.5 350.1M563.4 354.5L567.5 350.1L568.5 356.0"/>
<path d="M618.9 380.6L623.5 349.0M620.1 354.0L623.5 349.0L625.3 354.8"/>
<path d="M679.0 380.6L688.4 349.6M684.3 353.9L688.4 349.6L689.3 355.5"/>
<path d="M498.7 452.4L486.5 418.8M485.9 424.7L486.5 418.8L490.8 422.9"/>
<path d="M559.8 452.4L566.2 427.2M562.3 431.8L566.2 427.2L567.4 433.1"/>
<path d="M617.9 452.4L615.0 423.4M612.9 429.0L615.0 423.4L618.2 428.5"/>
<path d="M737.6 309.1L750.4 289.7M745.2 292.8L750.4 289.7L749.6 295.7"/>
<path d="M797.5 309.1L809.7 282.1M805.0 285.9L809.7 282.1L809.8 288.1"/>
<path d="M857.3 309.1L871.3 280.8M866.5 284.5L871.3 280.8L871.2 286.8"/>
<path d="M737.6 380.6L745.3 357.2M741.1 361.5L745.3 357.2L746.1 363.1"/>
<path d="M797.5 380.6L814.8 351.6M809.7 354.9L814.8 351.6L814.3 357.6"/>
<path d="M857.3 380.6L872.5 349.0M867.8 352.7L872.5 349.0L872.6 355.0"/>
<path d="M260.3 523.9L258.0 479.6M255.7 485.1L258.0 479.6L260.9 484.8"/>
<path d="M320.1 523.9L326.5 482.6M323.1 487.6L326.5 482.6L328.3 488.4"/>
<path d="M380.2 523.9L380.7 485.2M378.0 490.5L380.7 485.2L383.3 490.6"/>
<path d="M440.0 523.9L440.0 486.4M437.4 491.8L440.0 486.4L442.7 491.8"/>
<path d="M261.1 595.5L251.4 561.8M250.4 567.7L251.4 561.8L255.5 566.3"/>
<path d="M320.6 595.5L313.1 562.7M311.7 568.6L313.1 562.7L316.9 567.4"/>
<path d="M380.0 595.5L365.8 576.9M367.0 582.8L365.8 576.9L371.2 579.6"/>
<path d="M261.1 667.1L243.3 645.5M244.7 651.3L243.3 645.5L248.7 647.9"/>
<path d="M320.6 667.1L305.4 646.4M306.5 652.3L305.4 646.4L310.8 649.2"/>
<path d="M380.0 667.1L367.6 647.3M368.3 653.2L367.6 647.3L372.7 650.5"/>
<path d="M499.1 524.2L491.3 506.9M491.1 512.9L491.3 506.9L495.9 510.7"/>
<path d="M558.5 523.8L550.4 509.4M550.7 515.4L550.4 509.4L555.3 512.8"/>
<path d="M439.6 595.5L428.7 579.6M429.6 585.6L428.7 579.6L434.0 582.6"/>
<path d="M499.1 595.5L489.1 581.5M490.1 587.4L489.1 581.5L494.4 584.3"/>
<path d="M558.5 595.5L550.0 583.6M551.0 589.6L550.0 583.6L555.3 586.5"/>
<path d="M679.7 452.4L679.5 432.2M676.9 437.7L679.5 432.2L682.1 437.6"/>
<path d="M618.1 523.9L613.8 507.3M612.6 513.2L613.8 507.3L617.7 511.9"/>
<path d="M678.2 523.9L673.9 509.4M672.9 515.3L673.9 509.4L677.9 513.8"/>
<path d="M618.1 595.4L613.3 579.4M612.3 585.3L613.3 579.4L617.3 583.8"/>
<path d="M678.2 595.4L675.6 580.6M674.0 586.4L675.6 580.6L679.1 585.5"/>
<path d="M737.1 452.4L737.1 435.0M734.5 440.4L737.1 435.0L739.8 440.4"/>
<path d="M796.7 452.4L796.7 434.3M794.1 439.7L796.7 434.3L799.3 439.7"/>
<path d="M857.3 452.4L864.4 433.5M860.0 437.6L864.4 433.5L865.0 439.5"/>
<path d="M737.1 523.9L734.6 507.3M732.8 513.1L734.6 507.3L738.0 512.3"/>
<path d="M797.5 523.9L798.0 506.3M795.2 511.6L798.0 506.3L800.4 511.8"/>
<path d="M857.8 523.9L861.1 507.6M857.4 512.3L861.1 507.6L862.6 513.4"/>
<path d="M736.9 595.4L736.4 579.4M733.9 584.8L736.4 579.4L739.2 584.7"/>
<path d="M797.5 595.4L797.5 580.6M794.8 586.0L797.5 580.6L800.1 586.0"/>
<path d="M857.8 595.4L857.8 581.9M855.1 587.3L857.8 581.9L860.4 587.3"/>
<path d="M439.5 667.1L429.6 648.0M429.8 654.0L429.6 648.0L434.4 651.6"/>
<path d="M259.3 738.7L245.8 700.2M245.1 706.2L245.8 700.2L250.1 704.5"/>
<path d="M319.6 738.7L309.4 706.6M308.6 712.5L309.4 706.6L313.6 710.9"/>
<path d="M378.9 738.7L371.8 711.7M370.7 717.6L371.8 711.7L375.7 716.2"/>
<path d="M438.2 738.7L433.7 714.5M432.1 720.3L433.7 714.5L437.3 719.3"/>
<path d="M499.0 667.1L492.9 647.5M492.0 653.5L492.9 647.5L497.0 651.9"/>
<path d="M558.5 667.1L554.7 648.8M553.3 654.6L554.7 648.8L558.4 653.6"/>
<path d="M618.1 667.1L613.8 650.1M612.6 656.0L613.8 650.1L617.7 654.7"/>
<path d="M678.2 667.1L675.1 650.1M673.5 655.9L675.1 650.1L678.7 654.9"/>
<path d="M498.2 738.7L495.7 714.5M493.6 720.1L495.7 714.5L498.9 719.6"/>
<path d="M557.5 738.7L556.5 713.7M554.1 719.2L556.5 713.7L559.4 719.0"/>
<path d="M617.4 738.7L615.3 716.3M613.2 721.9L615.3 716.3L618.4 721.4"/>
<path d="M676.9 738.7L675.6 718.8M673.4 724.4L675.6 718.8L678.6 724.0"/>
<path d="M737.1 667.1L737.1 649.3M734.5 654.7L737.1 649.3L739.8 654.7"/>
<path d="M797.5 667.1L797.5 651.4M794.8 656.8L797.5 651.4L800.1 656.8"/>
<path d="M858.0 667.1L858.0 652.6M855.4 658.0L858.0 652.6L860.7 658.0"/>
<path d="M736.4 738.7L736.4 720.6M733.7 726.0L736.4 720.6L739.0 726.0"/>
<path d="M797.2 738.7L796.7 722.6M794.2 728.1L796.7 722.6L799.5 727.9"/>
<path d="M855.5 738.7L855.5 726.0M852.9 731.3L855.5 726.0L858.1 731.3"/>
</g>
<g id="marks" fill="none" stroke="#7a10dc" stroke-width="2.1">
<circle cx="497.2" cy="96.0" r="5.0"/>
<circle cx="839.5" cy="143.9" r="5.0"/>
<circle cx="413.3" cy="284.6" r="5.0"/>
<circle cx="443.1" cy="373.7" r="5.0"/>
<circle cx="426.6" cy="392.1" r="5.0"/>
<circle cx="334.1" cy="392.1" r="5.0"/>
<circle cx="275.9" cy="411.9" r="5.0"/>
<circle cx="643.3" cy="279.6" r="5.0"/>
<circle cx="515.3" cy="394.1" r="5.0"/>
<circle cx="605.1" cy="385.7" r="5.0"/>
<circle cx="873.8" cy="309.3" r="5.0"/>
<circle cx="739.4" cy="436.1" r="5.0"/>
<circle cx="420.2" cy="465.3" r="5.0"/>
<circle cx="464.0" cy="480.1" r="5.0"/>
<circle cx="266.7" cy="590.5" r="5.0"/>
<circle cx="559.8" cy="463.6" r="5.0"/>
<circle cx="483.4" cy="516.5" r="5.0"/>
</g>
</g>
<rect x="205.0" y="69.1" width="690.1" height="662.3" fill="none" stroke="#000" stroke-width="2.2"/>
<line x1="205.0" y1="731.4" x2="205.0" y2="737.9" stroke="#fa3c3c" stroke-width="1" shape-rendering="crispEdges"/>
<line x1="274.0" y1="731.4" x2="274.0" y2="737.9" stroke="#fa3c3c" stroke-width="1" shape-rendering="crispEdges"/>
<line x1="343.0" y1="731.4" x2="343.0" y2="737.9" stroke="#fa3c3c" stroke-width="1" shape-rendering="crispEdges"/>
<line x1="412.0" y1="731.4" x2="412.0" y2="737.9" stroke="#fa3c3c" stroke-width="1" shape-rendering="crispEdges"/>
<line x1="481.0" y1="731.4" x2="481.0" y2="737.9" stroke="#fa3c3c" stroke-width="1" shape-rendering="crispEdges"/>
<line x1="550.0" y1="731.4" x2="550.0" y2="737.9" stroke="#fa3c3c" stroke-width="1" shape-rendering="crispEdges"/>
<line x1="619.1" y1="731.4" x2="619.1" y2="737.9" stroke="#fa3c3c" stroke-width="1" shape-rendering="crispEdges"/>
<line x1="688.1" y1="731.4" x2="688.1" y2="737.9" stroke="#fa3c3c" stroke-width="1" shape-rendering="crispEdges"/>
<line x1="757.1" y1="731.4" x2="757.1" y2="737.9" stroke="#fa3c3c" stroke-width="1" shape-rendering="crispEdges"/>
<line x1="826.1" y1="731.4" x2="826.1" y2="737.9" stroke="#fa3c3c" stroke-width="1" shape-rendering="crispEdges"/>
<line x1="198.0" y1="731.4" x2="205.0" y2="731.4" stroke="#fa3c3c" stroke-width="1" shape-rendering="crispEdges"/>
<line x1="198.0" y1="648.6" x2="205.0" y2="648.6" stroke="#fa3c3c" stroke-width="1" shape-rendering="crispEdges"/>
<line x1="198.0" y1="565.8" x2="205.0" y2="565.8" stroke="#fa3c3c" stroke-width="1" shape-rendering="crispEdges"/>
<line x1="198.0" y1="483.0" x2="205.0" y2="483.0" stroke="#fa3c3c" stroke-width="1" shape-rendering="crispEdges"/>
<line x1="198.0" y1="400.2" x2="205.0" y2="400.2" stroke="#fa3c3c" stroke-width="1" shape-rendering="crispEdges"/>
<line x1="198.0" y1="317.5" x2="205.0" y2="317.5" stroke="#fa3c3c" stroke-width="1" shape-rendering="crispEdges"/>
<line x1="198.0" y1="234.7" x2="205.0" y2="234.7" stroke="#fa3c3c" stroke-width="1" shape-rendering="crispEdges"/>
<line x1="198.0" y1="151.9" x2="205.0" y2="151.9" stroke="#fa3c3c" stroke-width="1" shape-rendering="crispEdges"/>
<rect x="957.5" y="127.30" width="40.0" height="22.92" fill="#8a2be2" stroke="#000" stroke-width="1" shape-rendering="crispEdges"/>
<rect x="957.5" y="150.22" width="40.0" height="22.92" fill="#9932cc" stroke="#000" stroke-width="1" shape-rendering="crispEdges"/>
<rect x="957.5" y="173.13" width="40.0" height="22.92" fill="#b03060" stroke="#000" stroke-width="1" shape-rendering="crispEdges"/>
<rect x="957.5" y="196.05" width="40.0" height="22.92" fill="#c71585" stroke="#000" stroke-width="1" shape-rendering="crispEdges"/>
<rect x="957.5" y="218.96" width="40.0" height="22.92" fill="#ff0000" stroke="#000" stroke-width="1" shape-rendering="crispEdges"/>
<rect x="957.5" y="241.88" width="40.0" height="22.92" fill="#fa0046" stroke="#000" stroke-width="1" shape-rendering="crispEdges"/>
<rect x="957.5" y="264.79" width="40.0" height="22.92" fill="#f52d5a" stroke="#000" stroke-width="1" shape-rendering="crispEdges"/>
<rect x="957.5" y="287.71" width="40.0" height="22.92" fill="#ff6a6a" stroke="#000" stroke-width="1" shape-rendering="crispEdges"/>
<rect x="957.5" y="310.62" width="40.0" height="22.92" fill="#ee5c2c" stroke="#000" stroke-width="1" shape-rendering="crispEdges"/>
<rect x="957.5" y="333.54" width="40.0" height="22.92" fill="#ff8c00" stroke="#000" stroke-width="1" shape-rendering="crispEdges"/>
<rect x="957.5" y="356.45" width="40.0" height="22.92" fill="#ffb028" stroke="#000" stroke-width="1" shape-rendering="crispEdges"/>
<rect x="957.5" y="379.37" width="40.0" height="22.92" fill="#f5b450" stroke="#000" stroke-width="1" shape-rendering="crispEdges"/>
<rect x="957.5" y="402.28" width="40.0" height="22.92" fill="#ffe800" stroke="#000" stroke-width="1" shape-rendering="crispEdges"/>
<rect x="957.5" y="425.20" width="40.0" height="22.92" fill="#fff200" stroke="#000" stroke-width="1" shape-rendering="crispEdges"/>
<rect x="957.5" y="448.12" width="40.0" height="22.92" fill="#f5e65a" stroke="#000" stroke-width="1" shape-rendering="crispEdges"/>
<rect x="957.5" y="471.03" width="40.0" height="22.92" fill="#f8f868" stroke="#000" stroke-width="1" shape-rendering="crispEdges"/>
<rect x="957.5" y="493.95" width="40.0" height="22.92" fill="#6aaa3a" stroke="#000" stroke-width="1" shape-rendering="crispEdges"/>
<rect x="957.5" y="516.86" width="40.0" height="22.92" fill="#90cc50" stroke="#000" stroke-width="1" shape-rendering="crispEdges"/>
<rect x="957.5" y="539.78" width="40.0" height="22.92" fill="#c0e07c" stroke="#000" stroke-width="1" shape-rendering="crispEdges"/>
<rect x="957.5" y="562.69" width="40.0" height="22.92" fill="#c0d880" stroke="#000" stroke-width="1" shape-rendering="crispEdges"/>
<rect x="957.5" y="585.61" width="40.0" height="22.92" fill="#e0eac0" stroke="#000" stroke-width="1" shape-rendering="crispEdges"/>
<rect x="957.5" y="608.52" width="40.0" height="22.92" fill="#4a90c4" stroke="#000" stroke-width="1" shape-rendering="crispEdges"/>
<rect x="957.5" y="631.44" width="40.0" height="22.92" fill="#70b0e0" stroke="#000" stroke-width="1" shape-rendering="crispEdges"/>
<rect x="957.5" y="654.35" width="40.0" height="22.92" fill="#a3dcf6" stroke="#000" stroke-width="1" shape-rendering="crispEdges"/>
<rect x="957.5" y="677.27" width="40.0" height="22.92" fill="#d8f0fc" stroke="#000" stroke-width="1" shape-rendering="crispEdges"/>
<rect x="957.5" y="700.18" width="40.0" height="22.92" fill="#ffffff" stroke="#000" stroke-width="1" shape-rendering="crispEdges"/>
<path d="M955 750.4H1005.7M992 742.9L1005.7 750.4L992 757.9" fill="none" stroke="#000" stroke-width="1.1"/>
<line x1="534.6" y1="808" x2="534.6" y2="837" stroke="#000" stroke-width="1.2"/>
</svg>
<div class="t" style="left:170.87px;top:22.71px;font-family:'Liberation Serif','Noto Serif CJK SC',serif;font-size:26px;transform:scale(1.0333,1.0235);">2026</div>
<div class="t" style="left:228.45px;top:19.34px;font-family:'Noto Serif CJK SC','Liberation Serif',serif;font-size:22px;font-weight:300;transform:scale(1.0500,1.1591);">年</div>
<div class="t" style="left:251.34px;top:22.71px;font-family:'Liberation Serif','Noto Serif CJK SC',serif;font-size:26px;transform:scale(0.9600,1.0235);">04</div>
<div class="t" style="left:279.96px;top:17.86px;font-family:'Noto Serif CJK SC','Liberation Serif',serif;font-size:22px;font-weight:300;transform:scale(1.0353,1.1800);">月</div>
<div class="t" style="left:306.62px;top:22.71px;font-family:'Liberation Serif','Noto Serif CJK SC',serif;font-size:26px;transform:scale(0.9913,1.0235);">10</div>
<div class="t" style="left:335.43px;top:22.27px;font-family:'Noto Serif CJK SC','Liberation Serif',serif;font-size:22px;font-weight:300;transform:scale(0.7933,0.9105);">日</div>
<div class="t" style="left:357.30px;top:22.71px;font-family:'Liberation Serif','Noto Serif CJK SC',serif;font-size:26px;transform:scale(0.7446,1.0235);">WRF</div>
<div class="t" style="left:401.80px;top:16.55px;font-family:'DejaVu Sans',sans-serif;font-size:28px;font-weight:200;transform:scale(1.6222,1.2250);">/</div>
<div class="t" style="left:417.06px;top:23.20px;font-family:'Liberation Serif','Noto Serif CJK SC',serif;font-size:26px;transform:scale(1.1418,1.0000);">cmaq</div>
<div class="t" style="left:481.65px;top:19.06px;font-family:'Noto Serif CJK SC','Liberation Serif',serif;font-size:22px;font-weight:300;letter-spacing:2px;transform:scale(1.0523,1.1714);">模式</div>
<div class="t" style="left:531.03px;top:21.96px;font-family:'Liberation Serif','Noto Serif CJK SC',serif;font-size:26px;transform:scale(1.0842,1.0588);">12km</div>
<div class="t" style="left:596.72px;top:20.30px;font-family:'Noto Serif CJK SC','Liberation Serif',serif;font-size:22px;font-weight:300;letter-spacing:2px;transform:scale(0.9783,1.0955);">预报产品</div>
<div class="t" style="left:691.00px;top:17.30px;font-family:'Liberation Serif','Noto Serif CJK SC',serif;font-size:26px;transform:scale(1.0000,1.3000);">:</div>
<div class="t" style="left:700.38px;top:22.71px;font-family:'Liberation Serif','Noto Serif CJK SC',serif;font-size:26px;transform:scale(1.0160,1.0235);">04</div>
<div class="t" style="left:730.39px;top:17.86px;font-family:'Noto Serif CJK SC','Liberation Serif',serif;font-size:22px;font-weight:300;transform:scale(1.0118,1.1800);">月</div>
<div class="t" style="left:756.62px;top:22.71px;font-family:'Liberation Serif','Noto Serif CJK SC',serif;font-size:26px;transform:scale(0.9913,1.0235);">10</div>
<div class="t" style="left:785.43px;top:22.27px;font-family:'Noto Serif CJK SC','Liberation Serif',serif;font-size:22px;font-weight:300;transform:scale(0.7933,0.9105);">日</div>
<div class="t" style="left:806.62px;top:22.71px;font-family:'Liberation Serif','Noto Serif CJK SC',serif;font-size:26px;transform:scale(0.9913,1.0235);">15</div>
<div class="t" style="left:834.69px;top:19.06px;font-family:'Noto Serif CJK SC','Liberation Serif',serif;font-size:22px;font-weight:300;transform:scale(1.0526,1.1714);">时</div>
<div class="t" style="left:870.37px;top:23.42px;font-family:'Liberation Serif','Noto Serif CJK SC',serif;font-size:26px;color:#fa3c3c;transform:scale(1.0318,0.9941);">SO2</div>
<div class="t" style="left:359.48px;top:810.39px;font-family:'Noto Serif CJK SC','Liberation Serif',serif;font-size:18px;font-weight:300;letter-spacing:2px;transform:scale(1.0158,1.1111);">版权所有</div>
<div class="t" style="left:439.20px;top:805.94px;font-family:'Noto Serif CJK SC','Liberation Serif',serif;font-size:18px;font-weight:300;transform:scale(1.1000,1.4444);">:</div>
<div class="t" style="left:453.01px;top:810.39px;font-family:'Noto Serif CJK SC','Liberation Serif',serif;font-size:18px;font-weight:300;letter-spacing:2px;transform:scale(0.9934,1.1111);">南京大学</div>
<div class="t" style="left:545.71px;top:810.39px;font-family:'Noto Serif CJK SC','Liberation Serif',serif;font-size:18px;font-weight:300;letter-spacing:2px;transform:scale(0.9888,1.1111);">南京创蓝科技有限公司</div>
<div class="t" style="left:940.65px;top:86.30px;font-family:'Liberation Serif','Noto Serif CJK SC',serif;font-size:24px;letter-spacing:1.5px;transform:scale(0.9471,1.0762);">(ug</div>
<div class="t" style="left:977.30px;top:88.09px;font-family:'DejaVu Sans',sans-serif;font-size:22px;font-weight:200;transform:scale(1.7143,1.2556);">/</div>
<div class="t" style="left:992.10px;top:86.30px;font-family:'Liberation Serif','Noto Serif CJK SC',serif;font-size:24px;letter-spacing:1.5px;transform:scale(0.9659,1.0762);">m3)</div>
<div class="t" style="left:940.88px;top:761.44px;font-family:'Liberation Serif','Noto Serif CJK SC',serif;font-size:21px;letter-spacing:1px;transform:scale(1.0600,0.9857);">10</div>
<div class="t" style="left:979.10px;top:760.52px;font-family:'Liberation Serif','Noto Serif CJK SC',serif;font-size:21px;transform:scale(1.1500,1.0400);">m</div>
<div class="t" style="left:1000.30px;top:759.79px;font-family:'DejaVu Sans',sans-serif;font-size:21px;font-weight:200;transform:scale(1.6571,1.2111);">/</div>
<div class="t" style="left:1013.24px;top:760.04px;font-family:'Liberation Serif','Noto Serif CJK SC',serif;font-size:21px;transform:scale(1.3571,1.0800);">s</div>
<div class="t" style="left:1002.49px;top:139.90px;font-family:'Liberation Serif','Noto Serif CJK SC',serif;font-size:26px;transform:scale(1.0531,0.9529);">1400</div>
<div class="t" style="left:1002.49px;top:185.73px;font-family:'Liberation Serif','Noto Serif CJK SC',serif;font-size:26px;transform:scale(1.0531,0.9529);">1000</div>
<div class="t" style="left:1003.55px;top:231.57px;font-family:'Liberation Serif','Noto Serif CJK SC',serif;font-size:26px;transform:scale(1.0531,0.9529);">719</div>
<div class="t" style="left:1003.55px;top:277.40px;font-family:'Liberation Serif','Noto Serif CJK SC',serif;font-size:26px;transform:scale(1.0531,0.9529);">556</div>
<div class="t" style="left:1003.55px;top:323.23px;font-family:'Liberation Serif','Noto Serif CJK SC',serif;font-size:26px;transform:scale(1.0531,0.9529);">394</div>
<div class="t" style="left:1003.55px;top:369.06px;font-family:'Liberation Serif','Noto Serif CJK SC',serif;font-size:26px;transform:scale(1.0531,0.9529);">231</div>
<div class="t" style="left:1002.49px;top:414.89px;font-family:'Liberation Serif','Noto Serif CJK SC',serif;font-size:26px;transform:scale(1.0531,0.9529);">125</div>
<div class="t" style="left:1003.55px;top:460.72px;font-family:'Liberation Serif','Noto Serif CJK SC',serif;font-size:26px;transform:scale(1.0531,0.9529);">75</div>
<div class="t" style="left:1004.60px;top:506.55px;font-family:'Liberation Serif','Noto Serif CJK SC',serif;font-size:26px;transform:scale(1.0531,0.9529);">45</div>
<div class="t" style="left:1003.55px;top:552.38px;font-family:'Liberation Serif','Noto Serif CJK SC',serif;font-size:26px;transform:scale(1.0531,0.9529);">35</div>
<div class="t" style="left:1003.55px;top:598.21px;font-family:'Liberation Serif','Noto Serif CJK SC',serif;font-size:26px;transform:scale(1.0531,0.9529);">25</div>
<div class="t" style="left:1002.49px;top:644.04px;font-family:'Liberation Serif','Noto Serif CJK SC',serif;font-size:26px;transform:scale(1.0531,0.9529);">15</div>
<div class="t" style="left:1003.55px;top:689.87px;font-family:'Liberation Serif','Noto Serif CJK SC',serif;font-size:26px;transform:scale(1.0531,0.9529);">5</div>
<div class="t" style="left:168.81px;top:739.74px;font-family:'Liberation Serif','Noto Serif CJK SC',serif;font-size:25px;color:#fa3c3c;transform:scale(1.0194,0.9647);">111.5E</div>
<div class="t" style="left:247.00px;top:739.74px;font-family:'Liberation Serif','Noto Serif CJK SC',serif;font-size:25px;color:#fa3c3c;transform:scale(1.0194,0.9647);">112E</div>
<div class="t" style="left:306.32px;top:739.74px;font-family:'Liberation Serif','Noto Serif CJK SC',serif;font-size:25px;color:#fa3c3c;transform:scale(1.0194,0.9647);">112.5E</div>
<div class="t" style="left:385.02px;top:739.74px;font-family:'Liberation Serif','Noto Serif CJK SC',serif;font-size:25px;color:#fa3c3c;transform:scale(1.0194,0.9647);">113E</div>
<div class="t" style="left:444.34px;top:739.74px;font-family:'Liberation Serif','Noto Serif CJK SC',serif;font-size:25px;color:#fa3c3c;transform:scale(1.0194,0.9647);">113.5E</div>
<div class="t" style="left:523.04px;top:739.74px;font-family:'Liberation Serif','Noto Serif CJK SC',serif;font-size:25px;color:#fa3c3c;transform:scale(1.0194,0.9647);">114E</div>
<div class="t" style="left:582.36px;top:739.74px;font-family:'Liberation Serif','Noto Serif CJK SC',serif;font-size:25px;color:#fa3c3c;transform:scale(1.0194,0.9647);">114.5E</div>
<div class="t" style="left:661.06px;top:739.74px;font-family:'Liberation Serif','Noto Serif CJK SC',serif;font-size:25px;color:#fa3c3c;transform:scale(1.0194,0.9647);">115E</div>
<div class="t" style="left:720.38px;top:739.74px;font-family:'Liberation Serif','Noto Serif CJK SC',serif;font-size:25px;color:#fa3c3c;transform:scale(1.0194,0.9647);">115.5E</div>
<div class="t" style="left:799.08px;top:739.74px;font-family:'Liberation Serif','Noto Serif CJK SC',serif;font-size:25px;color:#fa3c3c;transform:scale(1.0194,0.9647);">116E</div>
<div class="t" style="left:150.79px;top:719.43px;font-family:'Liberation Serif','Noto Serif CJK SC',serif;font-size:24px;color:#fa3c3c;transform:scale(0.9879,1.0133);">21N</div>
<div class="t" style="left:133.01px;top:636.65px;font-family:'Liberation Serif','Noto Serif CJK SC',serif;font-size:24px;color:#fa3c3c;transform:scale(0.9879,1.0133);">21.5N</div>
<div class="t" style="left:150.79px;top:553.86px;font-family:'Liberation Serif','Noto Serif CJK SC',serif;font-size:24px;color:#fa3c3c;transform:scale(0.9879,1.0133);">22N</div>
<div class="t" style="left:133.01px;top:471.07px;font-family:'Liberation Serif','Noto Serif CJK SC',serif;font-size:24px;color:#fa3c3c;transform:scale(0.9879,1.0133);">22.5N</div>
<div class="t" style="left:150.79px;top:388.28px;font-family:'Liberation Serif','Noto Serif CJK SC',serif;font-size:24px;color:#fa3c3c;transform:scale(0.9879,1.0133);">23N</div>
<div class="t" style="left:133.01px;top:305.50px;font-family:'Liberation Serif','Noto Serif CJK SC',serif;font-size:24px;color:#fa3c3c;transform:scale(0.9879,1.0133);">23.5N</div>
<div class="t" style="left:150.79px;top:222.71px;font-family:'Liberation Serif','Noto Serif CJK SC',serif;font-size:24px;color:#fa3c3c;transform:scale(0.9879,1.0133);">24N</div>
<div class="t" style="left:133.01px;top:139.92px;font-family:'Liberation Serif','Noto Serif CJK SC',serif;font-size:24px;color:#fa3c3c;transform:scale(0.9879,1.0133);">24.5N</div>
</body></html>
